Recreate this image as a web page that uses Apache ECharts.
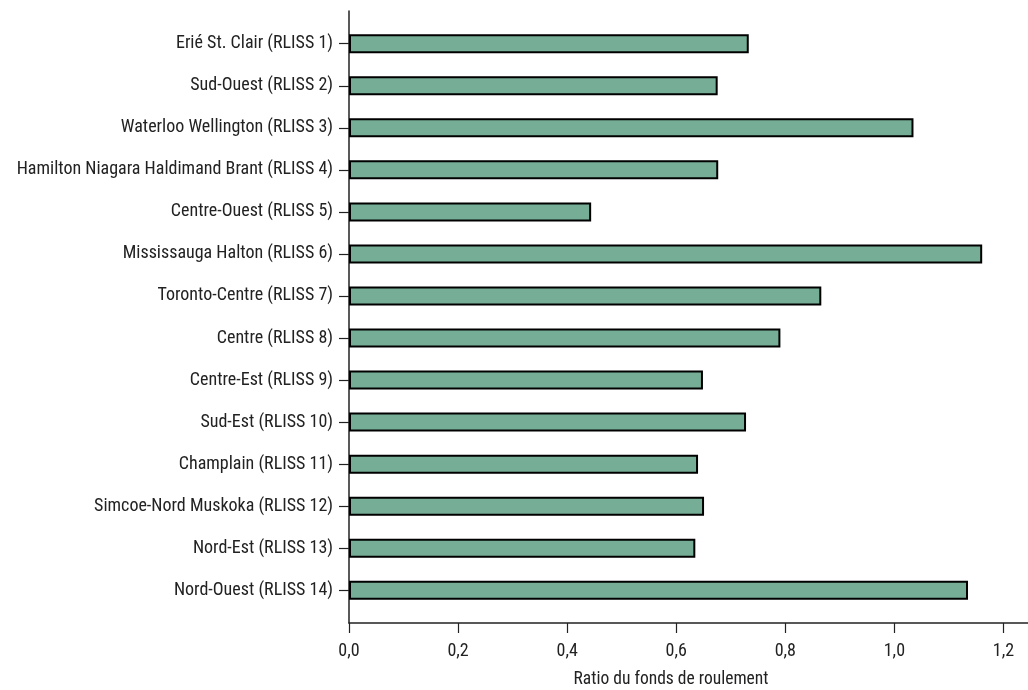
<!DOCTYPE html>
<html>
<head>
<meta charset="utf-8">
<script src="https://cdn.jsdelivr.net/npm/echarts@6/dist/echarts.min.js"></script>
<style>
  html, body { margin: 0; padding: 0; background: #ffffff; }
  #chart { width: 1028px; height: 690px; }
</style>
</head>
<body>
<div id="chart"></div>
<script>
const categories = [
  'Erié St. Clair (RLISS 1)',
  'Sud-Ouest (RLISS 2)',
  'Waterloo Wellington (RLISS 3)',
  'Hamilton Niagara Haldimand Brant (RLISS 4)',
  'Centre-Ouest (RLISS 5)',
  'Mississauga Halton (RLISS 6)',
  'Toronto-Centre (RLISS 7)',
  'Centre (RLISS 8)',
  'Centre-Est (RLISS 9)',
  'Sud-Est (RLISS 10)',
  'Champlain (RLISS 11)',
  'Simcoe-Nord Muskoka (RLISS 12)',
  'Nord-Est (RLISS 13)',
  'Nord-Ouest (RLISS 14)'
];
const ratios = [0.733, 0.676, 1.035, 0.677, 0.444, 1.161, 0.866, 0.791, 0.649, 0.728, 0.640, 0.651, 0.635, 1.135];
const xTicks = [0, 0.2, 0.4, 0.6, 0.8, 1.0, 1.2];
const xTitle = 'Ratio du fonds de roulement';

const FONT = '"Liberation Sans Narrow", "Arial Narrow", "Roboto Condensed", "Liberation Sans", sans-serif';
const X_MAX = 1.245;

const chart = echarts.init(document.getElementById('chart'), null, { renderer: 'canvas' });
chart.setOption({
  backgroundColor: '#ffffff',
  animation: false,
  grid: [
    { left: 349, right: 0, top: 11, bottom: 67, containLabel: false },
    { left: 349, right: 0, top: 22.7, bottom: 78.7, containLabel: false }
  ],
  xAxis: [
    {
      gridIndex: 0, type: 'value', min: 0, max: X_MAX, interval: 0.2,
      axisLine: { show: true, onZero: false, lineStyle: { color: '#222', width: 1.5 } },
      axisTick: { show: true, length: 10, lineStyle: { color: '#222', width: 1.2 },
        customValues: xTicks },
      axisLabel: { show: true, margin: 19, color: '#222', fontFamily: FONT, fontSize: 18,
        customValues: xTicks,
        formatter: v => v.toFixed(1).replace('.', ',') },
      splitLine: { show: false }
    },
    {
      gridIndex: 1, type: 'value', min: 0, max: X_MAX,
      show: false
    }
  ],
  yAxis: [
    {
      gridIndex: 0, type: 'value', min: 0, max: 1,
      axisLine: { show: true, lineStyle: { color: '#222', width: 1.5 } },
      axisTick: { show: false }, axisLabel: { show: false }, splitLine: { show: false }
    },
    {
      gridIndex: 1, type: 'category', data: categories, inverse: true,
      axisLine: { show: false },
      axisTick: { show: true, alignWithLabel: true, length: 10, lineStyle: { color: '#222', width: 1.2 } },
      axisLabel: { margin: 16, color: '#222', fontFamily: FONT, fontSize: 18 },
      splitLine: { show: false }
    }
  ],
  series: [
    {
      type: 'bar', xAxisIndex: 1, yAxisIndex: 1,
      data: ratios, barWidth: 19,
      itemStyle: { color: '#76ad96', borderColor: '#000000', borderWidth: 2 }
    }
  ],
  graphic: [
    {
      type: 'text', x: 671, y: 671,
      style: { text: xTitle, fill: '#222', font: '17.5px ' + FONT, align: 'center', textAlign: 'center', verticalAlign: 'top' }
    }
  ]
});
</script>
</body>
</html>
